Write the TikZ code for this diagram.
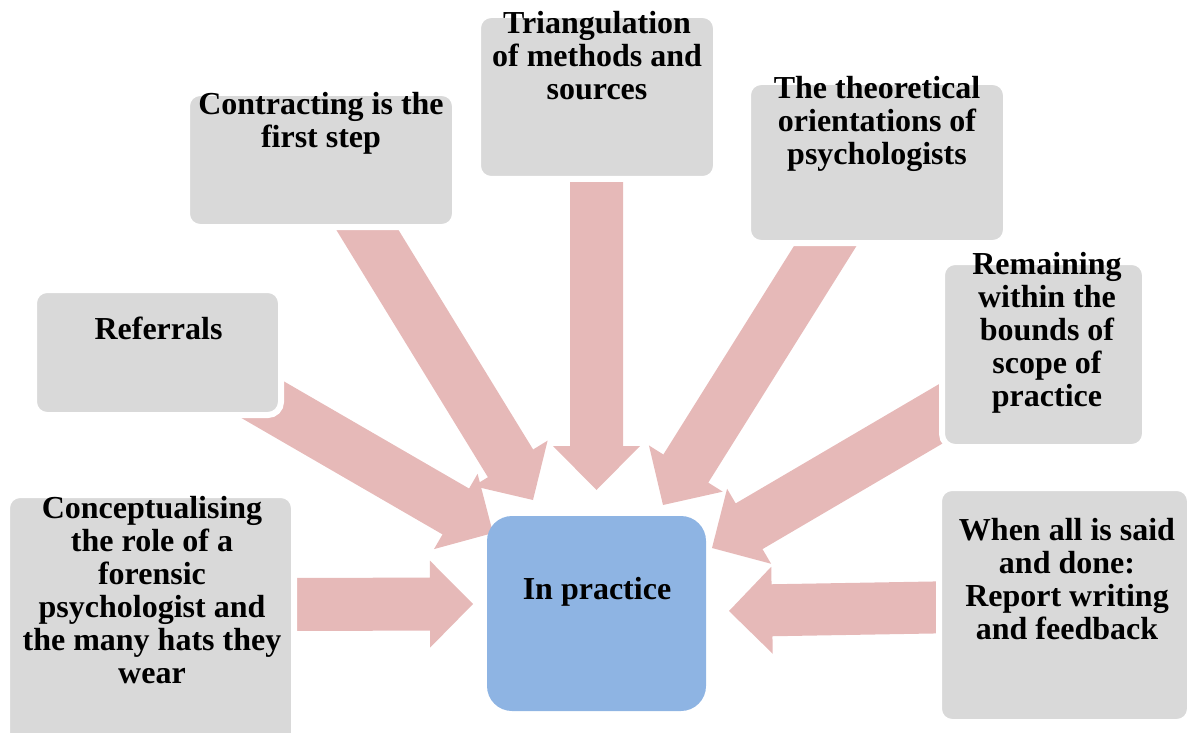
\documentclass[tikz,border=0pt]{standalone}
\usepackage{fontspec}
\setmainfont{Liberation Serif}
\usetikzlibrary{calc}
\definecolor{boxgray}{HTML}{D9D9D9}
\definecolor{arrpink}{HTML}{E6B9B8}
\definecolor{centerblue}{HTML}{8EB4E3}
\tikzset{
  arrowfill/.style={fill=arrpink},
  gbox/.style={rectangle, rounded corners=13pt, fill=boxgray, draw=white, line width=6pt, inner sep=0pt},
  cbox/.style={rectangle, rounded corners=25pt, fill=centerblue, inner sep=0pt},
  lbl/.style={font=\fontsize{32}{33}\selectfont\bfseries, align=center, inner sep=0pt, anchor=north},
}
% #1 tail, #2 tip, #3 half shaft, #4 half head, #5 head length
\newcommand\blockarr[5]{%
  \coordinate (hb) at ($(#2)!#5!(#1)$);
  \fill[arrowfill] ($(#1)!#3!90:(#2)$) -- ($(hb)!#3!-90:(#1)$) -- ($(hb)!#4!-90:(#1)$)
    -- (#2) -- ($(hb)!#4!90:(#1)$) -- ($(hb)!#3!90:(#1)$) -- ($(#1)!#3!-90:(#2)$) -- cycle;
}
\begin{document}
\begin{tikzpicture}[x=1pt,y=-1pt]
\useasboundingbox (0,0) rectangle (1187,733);

% arrow tails and tips
\coordinate (a1t) at (351.5,204);  \coordinate (a1h) at (533,500);
\coordinate (a2t) at (596.5,160);  \coordinate (a2h) at (596.5,490);
\coordinate (a3t) at (841.5,220);  \coordinate (a3h) at (663,505);
\coordinate (a4t) at (239,386);    \coordinate (a4h) at (493,533);
\coordinate (a5t) at (966,399);    \coordinate (a5h) at (712,548);
\coordinate (a6t) at (270,604.5);  \coordinate (a6h) at (473,604);
\coordinate (a7t) at (962,607);    \coordinate (a7h) at (729,611);

\blockarr{a4t}{a4h}{26.5pt}{43.5pt}{43pt}
\blockarr{a1t}{a1h}{26.5pt}{43.5pt}{43pt}
\blockarr{a2t}{a2h}{26.5pt}{43.5pt}{44pt}
\blockarr{a3t}{a3h}{26.5pt}{43.5pt}{43pt}
\blockarr{a5t}{a5h}{26.5pt}{43.5pt}{43pt}
\blockarr{a6t}{a6h}{26.5pt}{43.5pt}{43pt}
\blockarr{a7t}{a7h}{26pt}{43.5pt}{43pt}

% boxes
\node[gbox, minimum width=268pt, minimum height=134pt] (b1) at (321,160) {};
\node[gbox, minimum width=238pt, minimum height=164pt] (b2) at (597,97) {};
\node[gbox, minimum width=258pt, minimum height=161pt] (b3) at (877,162.5) {};
\node[gbox, minimum width=247pt, minimum height=125pt] (b4) at (157.5,352.5) {};
\node[gbox, minimum width=203pt, minimum height=185pt] (b5) at (1043.5,354.5) {};
\node[gbox, minimum width=287pt, minimum height=268pt] (b6) at (150.5,629) {};
\node[gbox, minimum width=251pt, minimum height=234pt] (b7) at (1064.5,605) {};
\node[cbox, minimum width=219pt, minimum height=195pt] (b8) at (596.5,613.5) {};

% texts
\node[lbl] (t1) at (321,92) {Contracting is the\\first step};
\node[lbl] (t2) at (597,11) {Triangulation\\of methods and\\sources};
\node[lbl] (t3) at (877,76) {The theoretical\\orientations of\\psychologists};
\node[lbl] (t4) at (158.5,317) {Referrals};
\node[lbl] (t5) at (1047,252) {Remaining\\within the\\bounds of\\scope of\\practice};
\node[lbl] (t6) at (152,496) {Conceptualising\\the role of a\\forensic\\psychologist and\\the many hats they\\wear};
\node[lbl] (t7) at (1067,518) {When all is said\\and done:\\Report writing\\and feedback};
\node[lbl] (t8) at (597,577) {In practice};
\end{tikzpicture}
\end{document}
